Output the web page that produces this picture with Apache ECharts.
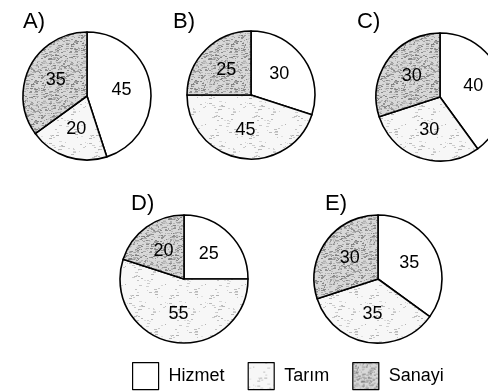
<!DOCTYPE html>
<html>
<head>
<meta charset="utf-8">
<script src="https://cdn.jsdelivr.net/npm/echarts@6/dist/echarts.min.js"></script>
<style>
html,body{margin:0;padding:0;background:#fff;}
#chart{width:488px;height:391px;}
</style>
</head>
<body>
<div id="chart"></div>
<script>
// veri
var categories = ['Hizmet', 'Tarım', 'Sanayi'];
var chartNames = ['A)', 'B)', 'C)', 'D)', 'E)'];
var valuesA = [45, 20, 35];
var valuesB = [30, 45, 25];
var valuesC = [40, 30, 30];
var valuesD = [25, 55, 20];
var valuesE = [35, 35, 30];
var allValues = [valuesA, valuesB, valuesC, valuesD, valuesE];

// yerlesim
var centers = [[87, 96], [251, 95], [440, 97], [184, 279], [378, 279]];
var titlePos = [[18, 6], [168, 6], [352, 6], [126, 188], [320, 188]];

// noktali desen (sabit tohum)
function makePattern(count, minGray, maxGray, bg) {
    var c = document.createElement('canvas');
    c.width = 40; c.height = 40;
    var ctx = c.getContext('2d');
    ctx.fillStyle = bg;
    ctx.fillRect(0, 0, 40, 40);
    var seed = 12345;
    function rnd() { seed = (seed * 1103515245 + 12345) % 2147483648; return seed / 2147483648; }
    for (var i = 0; i < count; i++) {
        var g = Math.round(minGray + rnd() * (maxGray - minGray));
        ctx.fillStyle = 'rgb(' + g + ',' + g + ',' + g + ')';
        ctx.fillRect(Math.floor(rnd() * 40), Math.floor(rnd() * 40), 1 + Math.round(rnd() * 2), 1);
    }
    return c;
}
var colors = [
    '#ffffff',
    {image: makePattern(60, 175, 225, '#f7f7f7'), repeat: 'repeat'},
    {image: makePattern(400, 125, 205, '#d8d8d8'), repeat: 'repeat'}
];

var myChart = echarts.init(document.getElementById('chart'), null, {renderer: 'canvas'});

var series = [];
var titles = [];
for (var i = 0; i < allValues.length; i++) {
    series.push({
        type: 'pie',
        center: centers[i],
        radius: 64,
        startAngle: 90,
        clockwise: true,
        silent: true,
        animation: false,
        label: {
            show: true,
            position: 'inside',
            formatter: '{c}',
            color: '#000',
            fontSize: 18,
            fontFamily: 'Liberation Sans'
        },
        labelLine: {show: false},
        itemStyle: {borderColor: '#000', borderWidth: 1.6},
        data: categories.map(function (name, k) {
            return {name: name, value: allValues[i][k], itemStyle: {color: colors[k]}};
        })
    });
    titles.push({
        text: chartNames[i],
        left: titlePos[i][0],
        top: titlePos[i][1],
        textStyle: {fontSize: 22, fontWeight: 'normal', color: '#000', fontFamily: 'Liberation Sans'}
    });
}

var option = {
    backgroundColor: '#fff',
    title: titles,
    legend: {
        data: categories,
        left: 127,
        top: 357,
        icon: 'rect',
        itemWidth: 26,
        itemHeight: 27,
        itemGap: 23,
        selectedMode: false,
        itemStyle: {borderColor: '#000', borderWidth: 1.2},
        textStyle: {fontSize: 18, color: '#000', fontFamily: 'Liberation Sans', padding: [0, 0, 0, 5]}
    },
    series: series
};
myChart.setOption(option);
</script>
</body>
</html>
